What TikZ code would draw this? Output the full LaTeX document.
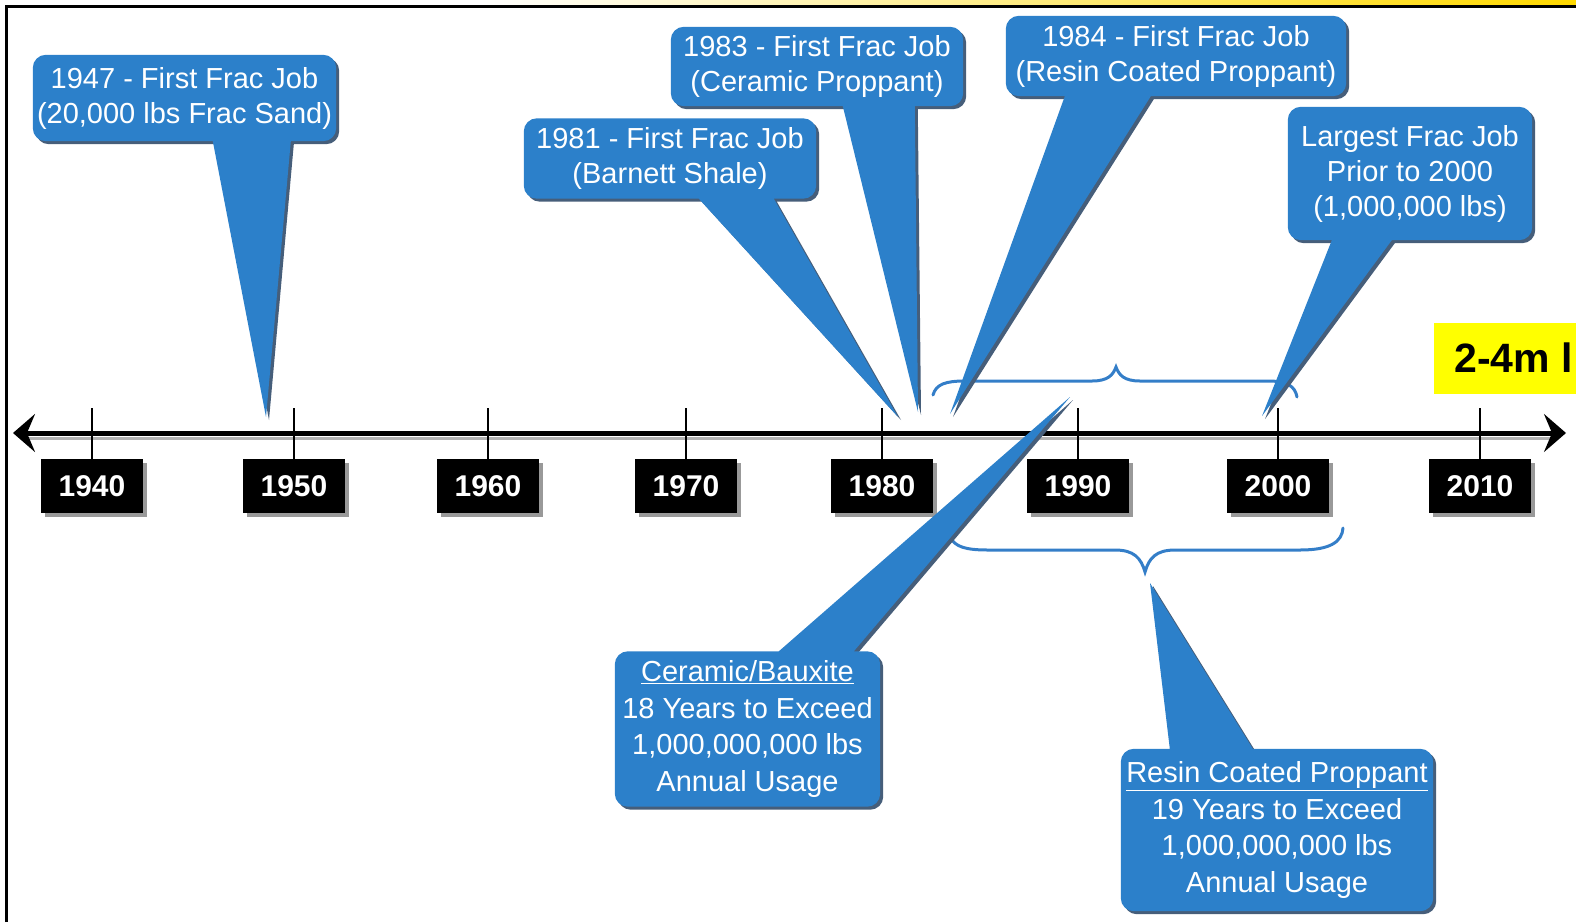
\documentclass[tikz,border=0pt]{standalone}
\usepackage{fontspec}
\setmainfont{Liberation Sans}
\usetikzlibrary{arrows.meta,calc,shadows}

\definecolor{bubbleblue}{RGB}{44,128,202}
\definecolor{bubbleshade}{RGB}{70,94,122}
\definecolor{bracecol}{RGB}{52,126,200}
\definecolor{tagyellow}{RGB}{255,255,0}

\pgfdeclarelayer{bubbles}
\pgfdeclarelayer{labels}
\pgfsetlayers{main,bubbles,labels}

\tikzset{
  bubble/.style={fill=bubbleblue,
    drop shadow={shadow xshift=3pt,shadow yshift=-3pt,fill=bubbleshade,opacity=1}},
  bubbletext/.style={text=white,align=center,inner sep=0pt,
    font=\fontsize{29}{35}\selectfont},
  widetext/.style={bubbletext,font=\fontsize{29}{36.5}\selectfont},
  yearbox/.style={fill=black,text=white,inner sep=0pt,
    minimum width=102pt,minimum height=54pt,
    font=\bfseries\fontsize{30}{30}\selectfont,
    drop shadow={shadow xshift=4pt,shadow yshift=-4pt,fill=black!40,opacity=1}},
  spanbrace/.style={draw=bracecol,line width=3pt,line cap=round},
  axistip/.tip={Stealth[length=22pt,width=38pt,inset=8pt]}
}

\begin{document}
\begin{tikzpicture}[x=1pt,y=-1pt]
  \useasboundingbox (0,0) rectangle (1576,922);
  % frame
  \shade[left color=white,right color=yellow!70!orange] (480,0) rectangle (1576,5);
  \draw[line width=3pt] (6.5,922) -- (6.5,6.5) -- (1576,6.5);

  % tips of the callouts
  \coordinate (t1947) at (266,417);
  \coordinate (t1981) at (898,417);
  \coordinate (t1983) at (918,412);
  \coordinate (t1984) at (950,414);
  \coordinate (t2000) at (1262,416);
  \coordinate (tcer) at (1070,397);
  \coordinate (tres) at (1150,583);

  % time axis
  \coordinate (axisL) at (13,433);
  \coordinate (axisR) at (1566,433);
  \draw[black!30,line width=3pt] (26,438) -- (1550,438);
  \draw[line width=5pt,axistip-axistip] (axisL) -- (axisR);
  \foreach \yr/\x in {1940/92,1950/294,1960/488,1970/686,1980/882,1990/1078,2000/1278,2010/1480}{
    \node[yearbox] (y\yr) at (\x,486) {\yr};
    \draw[line width=2pt] (\x,408) -- (y\yr.north);
  }

  % braces
  \draw[spanbrace] (933,395) .. controls (936,384) and (946,381) .. (965,381) -- (1092,381)
    .. controls (1108,381) and (1113,375) .. (1116,367) .. controls (1119,375) and (1124,381) .. (1140,381)
    -- (1268,381) .. controls (1287,381) and (1295,386) .. (1297,397);
  \draw[spanbrace] (950,537) .. controls (955,547) and (966,550) .. (988,550) -- (1115,550)
    .. controls (1134,550) and (1141,558) .. (1145,572) .. controls (1149,558) and (1156,550) .. (1175,550)
    -- (1300,550) .. controls (1330,550) and (1342,542) .. (1343,528);

  \node[fill=tagyellow,anchor=west,minimum height=71pt,inner xsep=20pt,inner ysep=0pt,
    font=\bfseries\fontsize{41}{41}\selectfont] (tag) at (1434,358) {2-4m l};

  % callout texts
  \begin{pgfonlayer}{labels}
    \node[bubbletext,minimum width=303pt,minimum height=86pt] (c1947) at (184.5,98)
      {1947 - First Frac Job\\(20,000 lbs Frac Sand)};
    \node[bubbletext,minimum width=292pt,minimum height=80pt] (c1981) at (670,158.5)
      {1981 - First Frac Job\\(Barnett Shale)};
    \node[bubbletext,minimum width=292pt,minimum height=79pt] (c1983) at (817,66.5)
      {1983 - First Frac Job\\(Ceramic Proppant)};
    \node[bubbletext,minimum width=340pt,minimum height=80pt] (c1984) at (1176,56)
      {1984 - First Frac Job\\(Resin Coated Proppant)};
    \node[bubbletext,minimum width=244pt,minimum height=133pt] (c2000) at (1410,173.5)
      {Largest Frac Job\\Prior to 2000\\(1,000,000 lbs)};
    \node[widetext,minimum width=265pt,minimum height=155pt] (ccer) at (747.5,729)
      {\underline{Ceramic/Bauxite}\\18 Years to Exceed\\1,000,000,000 lbs\\Annual Usage};
    \node[widetext,minimum width=312pt,minimum height=162pt] (cres) at (1277,830)
      {\underline{Resin Coated Proppant}\\19 Years to Exceed\\1,000,000,000 lbs\\Annual Usage};
  \end{pgfonlayer}

  % callout bodies with their pointers
  \begin{pgfonlayer}{bubbles}
    \fill[bubble] [rounded corners=13pt] (c1947.south west) rectangle (c1947.north east)
      [sharp corners] ($(c1947.south west)+(180,0)$) -- ($(c1947.south west)+(258,0)$) -- (t1947) -- cycle;
    \fill[bubble] [rounded corners=13pt] (c1981.south west) rectangle (c1981.north east)
      [sharp corners] ($(c1981.south west)+(175,0)$) -- ($(c1981.south west)+(250,0)$) -- (t1981) -- cycle;
    \fill[bubble] [rounded corners=13pt] (c1983.south west) rectangle (c1983.north east)
      [sharp corners] ($(c1983.south west)+(172,0)$) -- ($(c1983.south west)+(244,0)$) -- (t1983) -- cycle;
    \fill[bubble] [rounded corners=13pt] (c1984.south west) rectangle (c1984.north east)
      [sharp corners] ($(c1984.south west)+(59,0)$) -- ($(c1984.south west)+(145,0)$) -- (t1984) -- cycle;
    \fill[bubble] [rounded corners=13pt] (c2000.south west) rectangle (c2000.north east)
      [sharp corners] ($(c2000.south west)+(44,0)$) -- ($(c2000.south west)+(104,0)$) -- (t2000) -- cycle;
    \fill[bubble] [rounded corners=13pt] (ccer.south west) rectangle (ccer.north east)
      [sharp corners] ($(ccer.north west)+(164,0)$) -- ($(ccer.north west)+(239,0)$) -- (tcer) -- cycle;
    \fill[bubble] [rounded corners=13pt] (cres.south west) rectangle (cres.north east)
      [sharp corners] ($(cres.north west)+(49,0)$) -- ($(cres.north west)+(132,0)$) -- (tres) -- cycle;
  \end{pgfonlayer}
\end{tikzpicture}
\end{document}
